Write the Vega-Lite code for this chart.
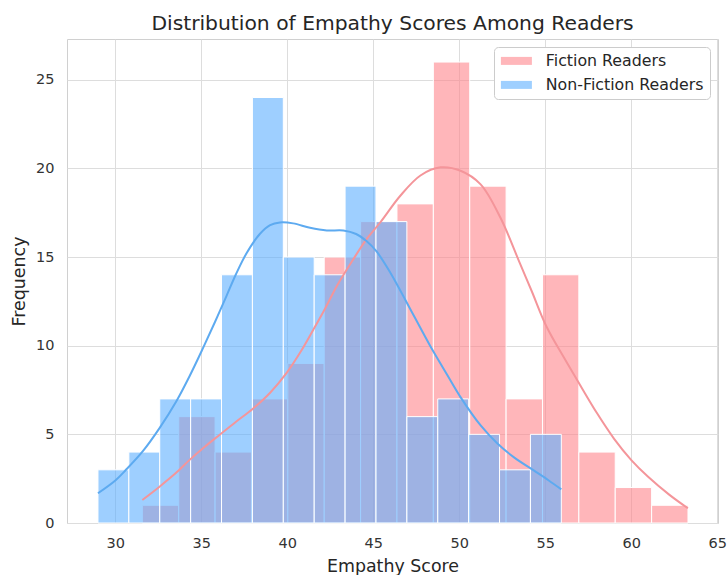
{
  "$schema": "https://vega.github.io/schema/vega-lite/v6.json",
  "width": 651,
  "height": 484,
  "autosize": "none",
  "padding": {"left": 67, "top": 39, "right": 9, "bottom": 52},
  "background": "white",
  "title": {"text": "Distribution of Empathy Scores Among Readers", "font": "DejaVu Sans", "fontSize": 20.3, "fontWeight": "normal", "color": "#262626", "offset": 5, "anchor": "middle"},
  "config": {
    "view": {"stroke": "#d0d0d0", "strokeWidth": 1},
    "axis": {"labelFont": "DejaVu Sans", "titleFont": "DejaVu Sans", "labelFontSize": 14.5, "titleFontSize": 17.4, "labelColor": "#333333", "titleColor": "#262626", "titleFontWeight": "normal", "gridColor": "#dddddd", "gridWidth": 1, "domain": false, "ticks": false, "tickSize": 0}
  },
  "datasets": {
    "bars": [
      {"group": "Fiction Readers", "start": 31.57, "end": 33.685, "count": 1},
      {"group": "Fiction Readers", "start": 33.685, "end": 35.8, "count": 6},
      {"group": "Fiction Readers", "start": 35.8, "end": 37.915, "count": 4},
      {"group": "Fiction Readers", "start": 37.915, "end": 40.03, "count": 7},
      {"group": "Fiction Readers", "start": 40.03, "end": 42.145, "count": 9},
      {"group": "Fiction Readers", "start": 42.145, "end": 44.26, "count": 15},
      {"group": "Fiction Readers", "start": 44.26, "end": 46.375, "count": 17},
      {"group": "Fiction Readers", "start": 46.375, "end": 48.49, "count": 18},
      {"group": "Fiction Readers", "start": 48.49, "end": 50.605, "count": 26},
      {"group": "Fiction Readers", "start": 50.605, "end": 52.72, "count": 19},
      {"group": "Fiction Readers", "start": 52.72, "end": 54.835, "count": 7},
      {"group": "Fiction Readers", "start": 54.835, "end": 56.95, "count": 14},
      {"group": "Fiction Readers", "start": 56.95, "end": 59.065, "count": 4},
      {"group": "Fiction Readers", "start": 59.065, "end": 61.18, "count": 2},
      {"group": "Fiction Readers", "start": 61.18, "end": 63.295, "count": 1},
      {"group": "Non-Fiction Readers", "start": 28.99, "end": 30.786, "count": 3},
      {"group": "Non-Fiction Readers", "start": 30.786, "end": 32.582, "count": 4},
      {"group": "Non-Fiction Readers", "start": 32.582, "end": 34.378, "count": 7},
      {"group": "Non-Fiction Readers", "start": 34.378, "end": 36.174, "count": 7},
      {"group": "Non-Fiction Readers", "start": 36.174, "end": 37.97, "count": 14},
      {"group": "Non-Fiction Readers", "start": 37.97, "end": 39.766, "count": 24},
      {"group": "Non-Fiction Readers", "start": 39.766, "end": 41.562, "count": 15},
      {"group": "Non-Fiction Readers", "start": 41.562, "end": 43.358, "count": 14},
      {"group": "Non-Fiction Readers", "start": 43.358, "end": 45.154, "count": 19},
      {"group": "Non-Fiction Readers", "start": 45.154, "end": 46.95, "count": 17},
      {"group": "Non-Fiction Readers", "start": 46.95, "end": 48.746, "count": 6},
      {"group": "Non-Fiction Readers", "start": 48.746, "end": 50.542, "count": 7},
      {"group": "Non-Fiction Readers", "start": 50.542, "end": 52.338, "count": 5},
      {"group": "Non-Fiction Readers", "start": 52.338, "end": 54.134, "count": 3},
      {"group": "Non-Fiction Readers", "start": 54.134, "end": 55.93, "count": 5}
    ],
    "kde": [
      {"group": "Fiction Readers", "x": 31.57, "y": 1.3},
      {"group": "Fiction Readers", "x": 32.57, "y": 2.05},
      {"group": "Fiction Readers", "x": 33.5, "y": 2.8},
      {"group": "Fiction Readers", "x": 34.32, "y": 3.56},
      {"group": "Fiction Readers", "x": 35.2, "y": 4.3},
      {"group": "Fiction Readers", "x": 36.07, "y": 4.98},
      {"group": "Fiction Readers", "x": 37.0, "y": 5.7},
      {"group": "Fiction Readers", "x": 38.0, "y": 6.45},
      {"group": "Fiction Readers", "x": 39.0, "y": 7.35},
      {"group": "Fiction Readers", "x": 39.96, "y": 8.47},
      {"group": "Fiction Readers", "x": 40.8, "y": 9.7},
      {"group": "Fiction Readers", "x": 41.51, "y": 10.9},
      {"group": "Fiction Readers", "x": 42.2, "y": 12.1},
      {"group": "Fiction Readers", "x": 42.88, "y": 13.37},
      {"group": "Fiction Readers", "x": 43.85, "y": 14.9},
      {"group": "Fiction Readers", "x": 44.6, "y": 16.0},
      {"group": "Fiction Readers", "x": 45.4, "y": 16.95},
      {"group": "Fiction Readers", "x": 46.57, "y": 18.46},
      {"group": "Fiction Readers", "x": 47.74, "y": 19.6},
      {"group": "Fiction Readers", "x": 48.9, "y": 20.06},
      {"group": "Fiction Readers", "x": 50.07, "y": 19.87},
      {"group": "Fiction Readers", "x": 51.24, "y": 19.1},
      {"group": "Fiction Readers", "x": 52.4, "y": 17.2},
      {"group": "Fiction Readers", "x": 53.5, "y": 14.7},
      {"group": "Fiction Readers", "x": 54.2, "y": 13.1},
      {"group": "Fiction Readers", "x": 55.06, "y": 11.1},
      {"group": "Fiction Readers", "x": 56.1, "y": 9.3},
      {"group": "Fiction Readers", "x": 57.07, "y": 7.7},
      {"group": "Fiction Readers", "x": 58.0, "y": 6.2},
      {"group": "Fiction Readers", "x": 59.0, "y": 4.75},
      {"group": "Fiction Readers", "x": 60.0, "y": 3.55},
      {"group": "Fiction Readers", "x": 60.96, "y": 2.62},
      {"group": "Fiction Readers", "x": 62.2, "y": 1.6},
      {"group": "Fiction Readers", "x": 63.29, "y": 0.83},
      {"group": "Non-Fiction Readers", "x": 28.99, "y": 1.68},
      {"group": "Non-Fiction Readers", "x": 30.0, "y": 2.4},
      {"group": "Non-Fiction Readers", "x": 30.62, "y": 3.0},
      {"group": "Non-Fiction Readers", "x": 31.6, "y": 4.05},
      {"group": "Non-Fiction Readers", "x": 32.57, "y": 5.35},
      {"group": "Non-Fiction Readers", "x": 33.54, "y": 6.85},
      {"group": "Non-Fiction Readers", "x": 34.3, "y": 8.25},
      {"group": "Non-Fiction Readers", "x": 35.09, "y": 9.85},
      {"group": "Non-Fiction Readers", "x": 35.8, "y": 11.35},
      {"group": "Non-Fiction Readers", "x": 36.46, "y": 12.8},
      {"group": "Non-Fiction Readers", "x": 37.0, "y": 14.0},
      {"group": "Non-Fiction Readers", "x": 37.62, "y": 15.2},
      {"group": "Non-Fiction Readers", "x": 38.4, "y": 16.3},
      {"group": "Non-Fiction Readers", "x": 39.0, "y": 16.8},
      {"group": "Non-Fiction Readers", "x": 39.57, "y": 16.95},
      {"group": "Non-Fiction Readers", "x": 40.34, "y": 16.9},
      {"group": "Non-Fiction Readers", "x": 41.32, "y": 16.65},
      {"group": "Non-Fiction Readers", "x": 42.29, "y": 16.5},
      {"group": "Non-Fiction Readers", "x": 43.26, "y": 16.5},
      {"group": "Non-Fiction Readers", "x": 44.0, "y": 16.3},
      {"group": "Non-Fiction Readers", "x": 44.6, "y": 15.9},
      {"group": "Non-Fiction Readers", "x": 45.2, "y": 15.3},
      {"group": "Non-Fiction Readers", "x": 46.0, "y": 14.1},
      {"group": "Non-Fiction Readers", "x": 47.35, "y": 11.7},
      {"group": "Non-Fiction Readers", "x": 48.3, "y": 10.0},
      {"group": "Non-Fiction Readers", "x": 49.3, "y": 8.35},
      {"group": "Non-Fiction Readers", "x": 50.07, "y": 7.1},
      {"group": "Non-Fiction Readers", "x": 51.24, "y": 5.5},
      {"group": "Non-Fiction Readers", "x": 52.2, "y": 4.5},
      {"group": "Non-Fiction Readers", "x": 53.18, "y": 3.7},
      {"group": "Non-Fiction Readers", "x": 54.35, "y": 2.95},
      {"group": "Non-Fiction Readers", "x": 55.2, "y": 2.4},
      {"group": "Non-Fiction Readers", "x": 55.93, "y": 1.9}
    ]
  },
  "layer": [
    {
      "data": {"name": "bars"},
      "mark": {"type": "rect", "fillOpacity": 0.6, "stroke": "white", "strokeWidth": 1},
      "encoding": {
        "x": {"field": "start", "type": "quantitative", "scale": {"domain": [27.19, 65.04], "nice": false, "zero": false},
              "axis": {"values": [30, 35, 40, 45, 50, 55, 60, 65], "title": "Empathy Score", "grid": true, "labelPadding": 13, "titlePadding": 8, "labelFlush": false}},
        "x2": {"field": "end"},
        "y": {"field": "count", "type": "quantitative", "scale": {"domain": [0, 27.3], "nice": false},
              "axis": {"values": [0, 5, 10, 15, 20, 25], "title": "Frequency", "grid": true, "labelPadding": 13, "titlePadding": 7}},
        "y2": {"datum": 0},
        "color": {"field": "group", "type": "nominal",
                  "scale": {"domain": ["Fiction Readers", "Non-Fiction Readers"], "range": ["#FF858C", "#5DAFFF"]},
                  "legend": {"orient": "none", "legendX": 427, "legendY": 8, "title": null, "fillColor": "white", "strokeColor": "#cccccc", "cornerRadius": 4, "padding": 6, "labelFont": "DejaVu Sans", "labelFontSize": 15.8, "labelColor": "#262626", "symbolType": "M-1.75,-1L6,-1L6,1L-1.75,1Z", "symbolSize": 64, "symbolOpacity": 0.6, "symbolStrokeWidth": 0, "labelOffset": 30, "rowPadding": 7}}
      }
    },
    {
      "data": {"name": "kde"},
      "mark": {"type": "line", "strokeWidth": 2, "interpolate": "catmull-rom"},
      "encoding": {
        "x": {"field": "x", "type": "quantitative"},
        "y": {"field": "y", "type": "quantitative"},
        "detail": {"field": "group"},
        "stroke": {"field": "group", "type": "nominal",
                   "scale": {"domain": ["Fiction Readers", "Non-Fiction Readers"], "range": ["#F4959A", "#5DAAF0"]},
                   "legend": null}
      }
    }
  ]
}
